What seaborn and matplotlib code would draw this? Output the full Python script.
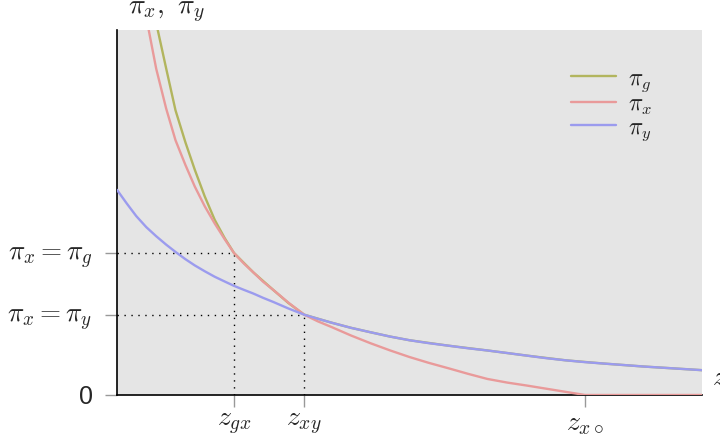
import matplotlib
matplotlib.use("Agg")
import matplotlib.pyplot as plt
import seaborn as sns
import numpy as np

# valeurs
x_g = [0.65, 0.84, 1.0, 1.17, 1.33, 1.5, 1.67, 1.84, 2.0, 2.33, 2.67, 2.93, 3.2, 3.67, 4.0, 4.33, 4.67, 5.0, 5.67, 6.33, 7.0, 7.67, 8.33, 9.0, 10.0]
pi_g = [10.34, 8.95, 7.8, 6.92, 6.17, 5.44, 4.8, 4.3, 3.89, 3.36, 2.88, 2.52, 2.2, 1.98, 1.84, 1.72, 1.6, 1.5, 1.35, 1.22, 1.08, 0.95, 0.86, 0.78, 0.68]

x_x = [0.5, 0.67, 0.84, 1.0, 1.17, 1.33, 1.5, 1.67, 1.84, 2.0, 2.17, 2.33, 2.5, 2.67, 2.93, 3.2, 3.43, 3.67, 4.0, 4.33, 4.67, 5.0, 5.33, 5.67, 6.0, 6.33, 6.67, 7.0, 7.5, 8.0, 10.0]
pi_x = [10.35, 8.94, 7.85, 6.98, 6.3, 5.71, 5.17, 4.7, 4.27, 3.89, 3.6, 3.36, 3.1, 2.88, 2.53, 2.2, 2.02, 1.86, 1.63, 1.42, 1.22, 1.04, 0.88, 0.73, 0.58, 0.44, 0.34, 0.26, 0.13, 0.0, 0.0]

x_y = [0.0, 0.17, 0.33, 0.5, 0.67, 0.84, 1.0, 1.17, 1.33, 1.5, 1.67, 1.84, 2.0, 2.17, 2.33, 2.5, 2.67, 2.93, 3.2, 3.43, 3.67, 4.0, 4.33, 4.67, 5.0, 5.33, 5.67, 6.0, 6.33, 6.67, 7.0, 7.33, 7.67, 8.0, 8.33, 8.67, 9.0, 9.5, 10.0]
pi_y = [5.62, 5.24, 4.9, 4.6, 4.35, 4.12, 3.92, 3.72, 3.55, 3.39, 3.24, 3.11, 2.99, 2.88, 2.78, 2.66, 2.55, 2.37, 2.2, 2.09, 1.98, 1.84, 1.72, 1.6, 1.5, 1.42, 1.35, 1.28, 1.22, 1.15, 1.08, 1.01, 0.95, 0.9, 0.86, 0.82, 0.78, 0.73, 0.68]

z_ticks = [2.0, 3.2, 8.0]
z_labels = [r"$z_{gx}$", r"$z_{xy}$", r"$z_{x\circ}$"]
pi_ticks = [0.0, 2.2, 3.89]
pi_labels = ["0", r"$\pi_x = \pi_y$", r"$\pi_x = \pi_g$"]

sns.set_theme(style="white")
plt.rcParams["font.family"] = ["Liberation Sans", "DejaVu Sans"]
plt.rcParams["mathtext.fontset"] = "cm"

fig = plt.figure(figsize=(7.2, 4.4), dpi=100)
ax = fig.add_axes([0.1625, 0.1023, 0.8125, 0.8295])
ax.set_facecolor("#e5e5e5")

sns.lineplot(x=x_g, y=pi_g, ax=ax, color="#b2b55e", lw=1.7, label=r"$\pi_g$", zorder=3)
sns.lineplot(x=x_x, y=pi_x, ax=ax, color="#e99a9a", lw=1.7, label=r"$\pi_x$", zorder=3)
sns.lineplot(x=x_y, y=pi_y, ax=ax, color="#9b9bee", lw=1.7, label=r"$\pi_y$", zorder=3)

# lignes pointillées de repère
for zx, py in [(z_ticks[0], pi_ticks[2]), (z_ticks[1], pi_ticks[1])]:
    ax.plot([0, zx], [py, py], color="black", lw=1, dashes=(1, 4), zorder=2)
    ax.plot([zx, zx], [0, py], color="black", lw=1, dashes=(1, 4), zorder=2)

ax.set_xlim(0, 10)
ax.set_ylim(0, 10)
ax.set_xticks(z_ticks)
ax.set_xticklabels(z_labels, fontsize=20)
ax.set_yticks(pi_ticks)
ax.set_yticklabels(pi_labels, fontsize=19.5)
ax.get_yticklabels()[0].set_fontsize(18)
ax.tick_params(axis="both", direction="out", length=8.5, width=1, color="#999999",
               bottom=True, left=True)
ax.tick_params(axis="y", pad=9)
ax.tick_params(axis="x", pad=3)

for s in ["top", "right"]:
    ax.spines[s].set_visible(False)
for s in ["left", "bottom"]:
    ax.spines[s].set_color("black")
    ax.spines[s].set_linewidth(1.2)

ax.text(0.018, 1.015, r"$\pi_x,\ \pi_y$", transform=ax.transAxes, fontsize=20, ha="left", va="bottom")
ax.text(1.017, 0.047, r"$z$", transform=ax.transAxes, fontsize=20, ha="left", va="center")

leg = ax.legend(loc="upper left", bbox_to_anchor=(0.74, 0.955), frameon=False, fontsize=17,
                handlelength=1.9, labelspacing=0.0, handletextpad=0.5)

fig.savefig("out.png", dpi=100)
